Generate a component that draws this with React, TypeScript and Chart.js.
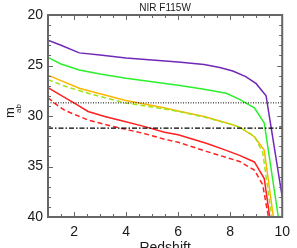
import React, { useEffect, useRef } from "react";
import { Chart, registerables } from "chart.js";

Chart.register(...registerables);

// ---- data ----
const titleText = "NIR F115W";
const xTitle = "Redshift";
const xTickValues = [2, 4, 6, 8, 10];
const yTickValues = [20, 25, 30, 35, 40];

const zPurple = [1, 1.5, 2.2, 3, 4, 5, 6, 7, 7.6, 8.1, 8.6, 9.0, 9.38, 10];
const mPurple = [22.5, 23.0, 23.75, 23.95, 24.25, 24.45, 24.65, 24.9, 25.2, 25.55, 26.1, 26.8, 28.0, 38.0];

const zGreen = [1, 1.5, 2.2, 3, 4, 5, 6, 7, 7.85, 8.36, 8.93, 9.31, 9.85];
const mGreen = [24.2, 24.85, 25.45, 25.85, 26.27, 26.6, 26.95, 27.35, 27.75, 28.35, 29.2, 30.7, 40];

const zOrange = [1, 1.5, 2.2, 3, 3.95, 5, 5.5, 6, 7, 8, 8.36, 8.93, 9.31, 9.66];
const mOrange = [25.95, 26.5, 27.25, 27.8, 28.45, 28.95, 29.2, 29.5, 30.05, 30.8, 31.1, 32.05, 33.4, 40];

const zLime = [1, 1.65, 2.54, 3.95, 5.48, 6, 7, 8, 8.36, 8.93, 9.25, 9.6];
const mLime = [26.4, 27.05, 27.75, 28.7, 29.3, 29.55, 30.1, 30.8, 31.1, 32.0, 33.6, 40];

const zRed = [1, 1.5, 2.03, 2.54, 3.18, 3.95, 4.72, 5.48, 6, 7.08, 7.85, 8.36, 8.93, 9.31, 9.52];
const mRed = [27.2, 27.95, 28.75, 29.55, 30.05, 30.55, 31.05, 31.6, 31.85, 32.7, 33.4, 33.9, 34.55, 36.2, 40];

const zRedDash = [1, 1.39, 1.65, 2.54, 3.44, 3.95, 4.72, 5.48, 6, 7.08, 8.36, 8.93, 9.25, 9.47];
const mRedDash = [28.2, 29.0, 29.45, 30.4, 31.0, 31.3, 31.75, 32.3, 32.6, 33.5, 34.5, 35.35, 36.8, 40];

const limitZ = [1, 10];
const dottedLimit = 28.7;
const dashDotLimit = 31.2;

const pts = (xs: number[], ys: number[]) => xs.map((x, i) => ({ x, y: ys[i] }));

const frameColor = "#666666";
const textColor = "#1a1a1a";
const fontFamily = "'Liberation Sans', Arial, Helvetica, sans-serif";

const decorPlugin = {
  id: "decor",
  afterDraw(chart: any) {
    const { ctx, chartArea } = chart;
    const { left, right, top, bottom } = chartArea;
    const xs = chart.scales.x;
    const ys = chart.scales.y;
    ctx.save();
    // frame
    ctx.strokeStyle = frameColor;
    ctx.lineWidth = 2;
    ctx.strokeRect(left, top, right - left, bottom - top);
    // ticks (inside, all four sides)
    ctx.lineWidth = 1;
    ctx.beginPath();
    for (let v = 1; v <= 10.001; v += 0.5) {
      const px = Math.round(xs.getPixelForValue(v)) + 0.5;
      const major = Math.abs(v / 2 - Math.round(v / 2)) < 1e-6;
      const len = major ? 5 : 3;
      ctx.moveTo(px, bottom);
      ctx.lineTo(px, bottom - len);
      ctx.moveTo(px, top);
      ctx.lineTo(px, top + len);
    }
    for (let v = 20; v <= 40; v += 1) {
      const py = Math.round(ys.getPixelForValue(v)) + 0.5;
      const major = v % 5 === 0;
      const len = major ? 5 : 3;
      ctx.moveTo(left, py);
      ctx.lineTo(left + len, py);
      ctx.moveTo(right, py);
      ctx.lineTo(right - len, py);
    }
    ctx.stroke();

    // title
    const cx = (left + right) / 2;
    ctx.fillStyle = textColor;
    ctx.font = `10px ${fontFamily}`;
    ctx.textAlign = "center";
    ctx.textBaseline = "alphabetic";
    ctx.fillText(titleText, cx, 11);

    // x title
    ctx.font = `14px ${fontFamily}`;
    ctx.fillText(xTitle, cx, 252);

    // y title m_ab
    ctx.save();
    ctx.translate(13.5, 118);
    ctx.rotate(-Math.PI / 2);
    ctx.textAlign = "left";
    ctx.font = `13px ${fontFamily}`;
    ctx.fillText("m", 0, 0);
    ctx.font = `8px ${fontFamily}`;
    ctx.fillText("ab", 5, 7);
    ctx.restore();

    ctx.restore();
  },
};

export default function App() {
  const ref = useRef<HTMLCanvasElement | null>(null);
  useEffect(() => {
    document.body.style.margin = "0";
    const canvas = ref.current!;
    const lineDs = (label: string, data: any[], color: string, dash: number[] = [], width = 1.5) => ({
      label,
      data,
      borderColor: color,
      backgroundColor: color,
      borderWidth: width,
      borderDash: dash,
      pointRadius: 0,
      tension: 0,
      fill: false,
      showLine: true,
    });
    const chart = new Chart(canvas, {
      type: "line",
      data: {
        datasets: [
          lineDs("dotted", pts(limitZ, [dottedLimit, dottedLimit]), "#000000", [1, 1.5], 1),
          lineDs("dashdot", pts(limitZ, [dashDotLimit, dashDotLimit]), "#000000", [5, 2, 1.5, 2], 1.3),
          lineDs("red dashed", pts(zRedDash, mRedDash), "#ff2020", [5, 3]),
          lineDs("red", pts(zRed, mRed), "#ff2020"),
          lineDs("lime dashed", pts(zLime, mLime), "#9be61e", [5, 3]),
          lineDs("orange", pts(zOrange, mOrange), "#ffb400"),
          lineDs("green", pts(zGreen, mGreen), "#2cf02c"),
          lineDs("purple", pts(zPurple, mPurple), "#7028b8"),
        ],
      },
      options: {
        responsive: false,
        devicePixelRatio: 1,
        animation: false,
        events: [],
        layout: { padding: { top: 15, right: 14, left: 0, bottom: 0 } },
        plugins: { legend: { display: false }, tooltip: { enabled: false }, title: { display: false } },
        scales: {
          x: {
            type: "linear",
            min: 1,
            max: 10,
            grid: { display: false, drawTicks: false },
            border: { display: false },
            afterBuildTicks: (s: any) => {
              s.ticks = xTickValues.map((v) => ({ value: v }));
            },
            afterFit: (s: any) => {
              s.height = 31;
            },
            ticks: {
              color: textColor,
              font: { family: fontFamily, size: 14 },
              padding: 7,
              maxRotation: 0,
              autoSkip: false,
            },
          },
          y: {
            type: "linear",
            reverse: true,
            min: 20,
            max: 40,
            grid: { display: false, drawTicks: false },
            border: { display: false },
            afterBuildTicks: (s: any) => {
              s.ticks = yTickValues.map((v) => ({ value: v }));
            },
            afterFit: (s: any) => {
              s.width = 48;
            },
            ticks: {
              color: textColor,
              font: { family: fontFamily, size: 14 },
              padding: 5,
              autoSkip: false,
            },
          },
        },
      },
      plugins: [decorPlugin],
    } as any);
    return () => chart.destroy();
  }, []);
  return (
    <div style={{ width: 297, height: 248, overflow: "hidden", background: "#fff" }}>
      <canvas ref={ref} width={297} height={248} style={{ display: "block" }} />
    </div>
  );
}
